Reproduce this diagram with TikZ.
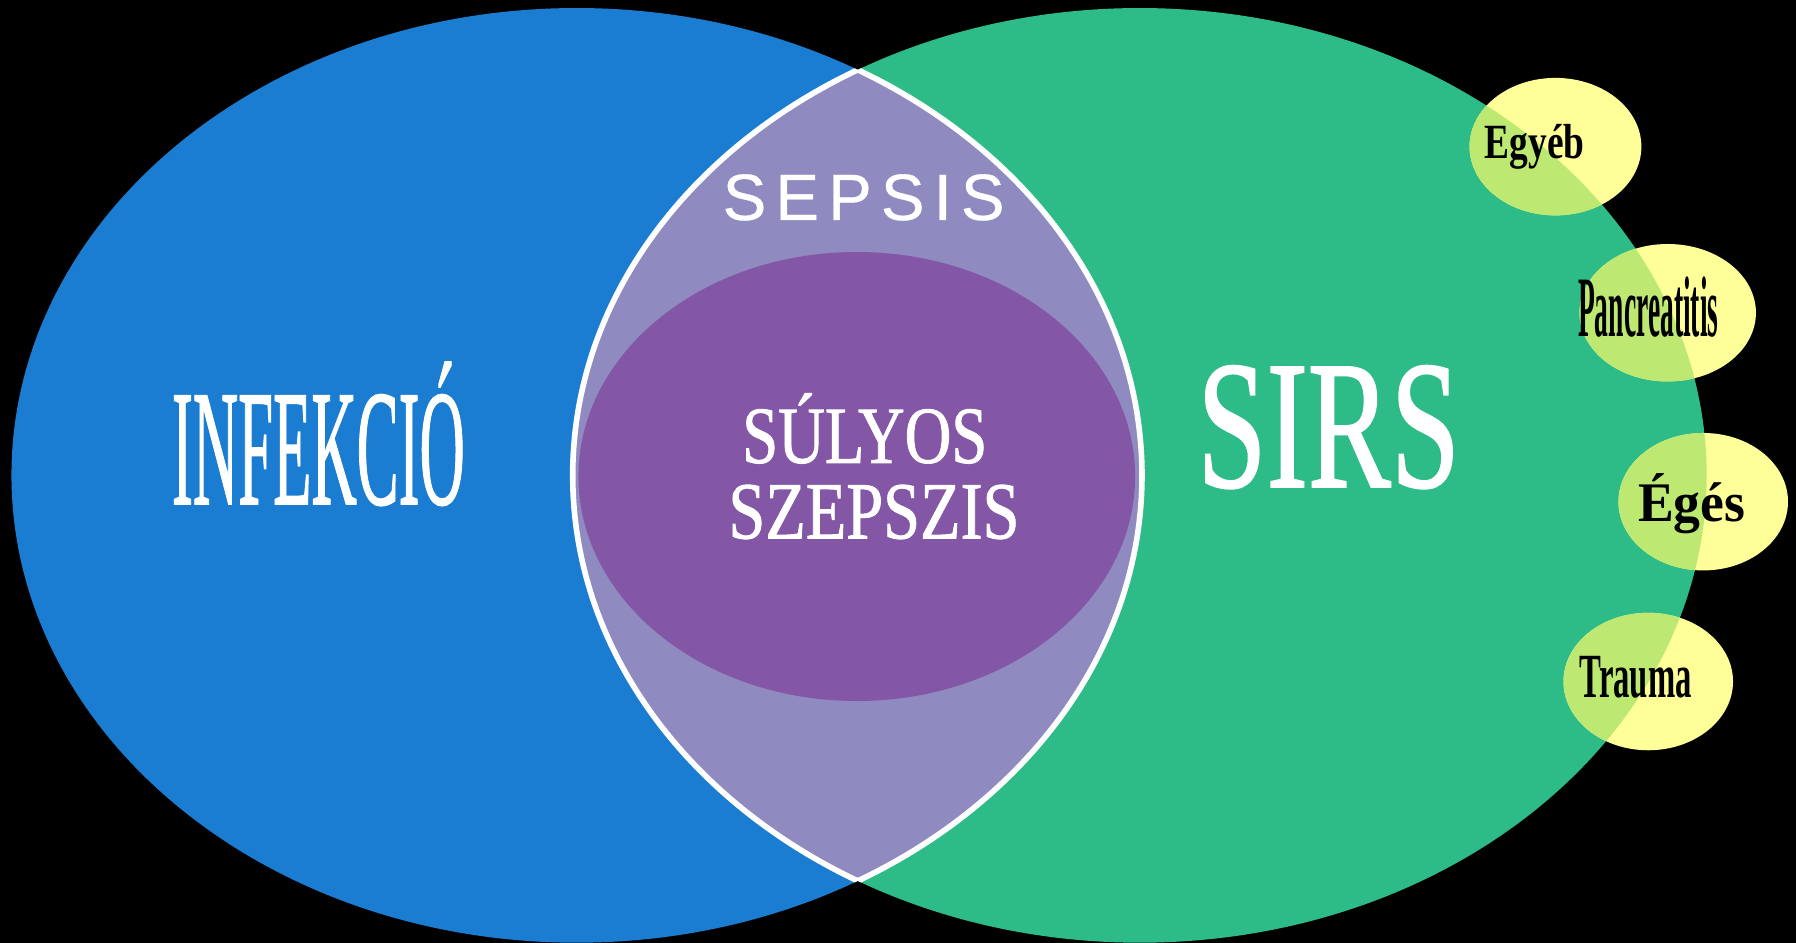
\documentclass[tikz,border=0pt]{standalone}
\usepackage{graphicx,xcolor}
\usepackage{fontspec}
\setmainfont{Liberation Serif}
\newfontfamily\bigserif[FakeBold=1.2]{Liberation Serif}
\newfontfamily\sepsisfont[FakeBold=0.6]{Liberation Sans}
\usepackage{tikz}
\definecolor{infblue}{RGB}{27,125,209}
\definecolor{sirsgreen}{RGB}{45,187,135}
\definecolor{sepsislila}{RGB}{143,139,192}
\definecolor{sulyospurple}{RGB}{132,87,166}
\definecolor{causeyellow}{RGB}{255,255,153}
\definecolor{causegreen}{RGB}{189,232,114}
\tikzstyle{bigword} = [text=white, inner sep=0pt, anchor=base]
\tikzstyle{cause} = [text=black, inner sep=0pt, anchor=base]
\tikzstyle{lensline} = [draw=white, line width=1.6pt]

\begin{document}
\begin{tikzpicture}[x=0.11454mm, y=-0.11454mm]
\fill[black] (0,0) rectangle (1568,823);
\fill[infblue] (503.5,415) ellipse [x radius=493.5, y radius=408];
\fill[sirsgreen] (995,415) ellipse [x radius=495, y radius=408];
% causes of SIRS
\foreach \cx/\cy/\rx in {1358/128/75, 1456/273/77, 1487/438/74, 1439/595/74}{
  \fill[causeyellow] (\cx,\cy) ellipse [x radius=\rx, y radius=60];
  \begin{scope}
    \clip (995,415) ellipse [x radius=495, y radius=408];
    \fill[causegreen] (\cx,\cy) ellipse [x radius=\rx, y radius=60];
  \end{scope}
}
% sepsis lens
\begin{scope}
  \clip (503.5,415) ellipse [x radius=493.5, y radius=408];
  \clip (995,415) ellipse [x radius=495, y radius=408];
  \fill[sepsislila] (0,0) rectangle (1568,823);
  \fill[sulyospurple] (748,416) ellipse [x radius=243, y radius=196];
\end{scope}
\begin{scope}
  \clip (503.5,415) ellipse [x radius=493.5, y radius=408];
  \draw[lensline] (995,415) ellipse [x radius=495, y radius=408];
\end{scope}
\begin{scope}
  \clip (995,415) ellipse [x radius=495, y radius=408];
  \draw[lensline] (503.5,415) ellipse [x radius=493.5, y radius=408];
\end{scope}

\node[bigword, font=\bigserif\fontsize{47}{47}\selectfont] (infekcio) at (278,440) {\scalebox{0.38}[1]{INFEKCIÓ}};
\node[bigword, font=\bigserif\fontsize{52}{52}\selectfont] (sirs) at (1160,425) {\scalebox{0.68}[1]{SIRS}};
\node[bigword, font=\bigserif\fontsize{23}{23}\selectfont] (sulyos) at (755,404) {\scalebox{0.8}[1]{SÚLYOS}};
\node[bigword, font=\bigserif\fontsize{23}{23}\selectfont] (szepszis) at (763,470) {\scalebox{0.82}[1]{SZEPSZIS}};
\node[bigword, font=\sepsisfont\fontsize{18.6}{18.6}\selectfont] (sepsis) at (754,192)
  {S\kern2.6pt E\kern2.6pt P\kern2.6pt S\kern2.6pt I\kern2.6pt S};

\node[cause, font=\bfseries\fontsize{14}{14}\selectfont] (egyeb) at (1340,138) {\scalebox{0.76}[1]{Egyéb}};
\node[cause, font=\bfseries\fontsize{24.5}{24.5}\selectfont] (pancreatitis) at (1439,294) {\scalebox{0.32}[1]{Pancreatitis}};
\node[cause, font=\bfseries\fontsize{15.9}{15.9}\selectfont] (eges) at (1477,455.5) {\scalebox{0.96}[1]{Égés}};
\node[cause, font=\bfseries\fontsize{17.9}{17.9}\selectfont] (trauma) at (1428,608.5) {\scalebox{0.52}[1]{Trauma}};
\end{tikzpicture}
\end{document}
